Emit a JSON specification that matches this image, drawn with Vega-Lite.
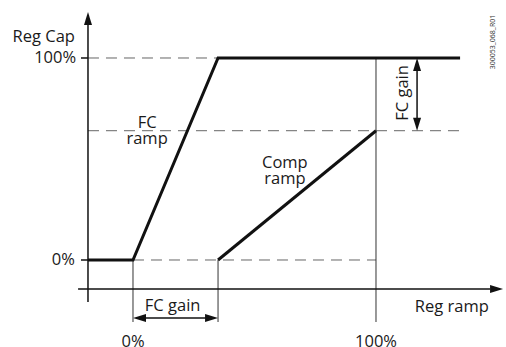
{
  "$schema": "https://vega.github.io/schema/vega-lite/v6.json",
  "width": 506,
  "height": 347,
  "autosize": {"type": "none"},
  "padding": 0,
  "background": "white",
  "config": {"view": {"stroke": null}},
  "datasets": {
    "segs": [
      {"role": "axis", "x": -18.52, "y": -20.8, "x2": -18.52, "y2": 117},
      {"role": "axis", "x": -22.6, "y": -14.36, "x2": 147, "y2": -14.36},
      {"role": "axis", "x": -21.4, "y": 100, "x2": -18.52, "y2": 100},
      {"role": "axis", "x": -21.4, "y": 0, "x2": -18.52, "y2": 0},
      {"role": "guide", "x": 0, "y": 0, "x2": 0, "y2": -30.7},
      {"role": "guide", "x": 35, "y": 0, "x2": 35, "y2": -30.7},
      {"role": "guide", "x": 100, "y": 100, "x2": 100, "y2": -30.7},
      {"role": "dash", "x": -18.52, "y": 100, "x2": 35, "y2": 100},
      {"role": "dash", "x": -18.52, "y": 64, "x2": 134.6, "y2": 64},
      {"role": "dash", "x": 0, "y": 0, "x2": 100, "y2": 0},
      {"role": "dim", "x": 3, "y": -28.7, "x2": 32, "y2": -28.7},
      {"role": "dim", "x": 116.9, "y": 67, "x2": 116.9, "y2": 97}
    ],
    "ramps": [
      {"series": "FC", "order": 1, "x": -18.52, "y": 0},
      {"series": "FC", "order": 2, "x": 0, "y": 0},
      {"series": "FC", "order": 3, "x": 35, "y": 100},
      {"series": "FC", "order": 4, "x": 134.6, "y": 100},
      {"series": "Comp", "order": 1, "x": 35, "y": 0},
      {"series": "Comp", "order": 2, "x": 100, "y": 64}
    ],
    "heads": [
      {"x": -18.52, "y": 122.8, "dir": 270},
      {"x": 152.3, "y": -14.36, "dir": 0},
      {"x": 0, "y": -28.7, "dir": 180},
      {"x": 35, "y": -28.7, "dir": 0},
      {"x": 116.9, "y": 100, "dir": 270},
      {"x": 116.9, "y": 64, "dir": 90}
    ],
    "labels": [
      {"text": ["Reg Cap"], "x": -23.9, "y": 108.1, "pos": "right"},
      {"text": ["FC", "ramp"], "x": 5.8, "y": 65.3, "pos": "center"},
      {"text": ["Comp", "ramp"], "x": 62.5, "y": 45.5, "pos": "center"},
      {"text": ["FC gain"], "x": 16.3, "y": -25.3, "pos": "center"},
      {"text": ["0%"], "x": 0, "y": -43, "pos": "center"},
      {"text": ["100%"], "x": 100, "y": -43, "pos": "center"},
      {"text": ["Reg ramp"], "x": 116, "y": -25.5, "pos": "left"}
    ],
    "mids": [
      {"text": "100%", "x": -23.4, "y": 100, "pos": "right"},
      {"text": "0%", "x": -23.9, "y": 0, "pos": "right"},
      {"text": "FC gain", "x": 111.2, "y": 82.7, "pos": "vertical"},
      {"text": "300053_068_R01", "x": 148.2, "y": 107.9, "pos": "code"}
    ]
  },
  "encoding": {
    "x": {"field": "x", "type": "quantitative", "scale": {"domain": [-54.73, 153.5], "nice": false, "zero": false}, "axis": null},
    "y": {"field": "y", "type": "quantitative", "scale": {"domain": [-43.07, 128.71], "nice": false, "zero": false}, "axis": null}
  },
  "layer": [
    {
      "data": {"name": "segs"},
      "transform": [{"filter": "datum.role === 'dash'"}],
      "mark": {"type": "rule", "stroke": "#666666", "strokeWidth": 1, "strokeDash": [11, 7]},
      "encoding": {"x2": {"field": "x2"}, "y2": {"field": "y2"}}
    },
    {
      "data": {"name": "segs"},
      "transform": [{"filter": "datum.role === 'guide'"}],
      "mark": {"type": "rule", "stroke": "#333333", "strokeWidth": 1},
      "encoding": {"x2": {"field": "x2"}, "y2": {"field": "y2"}}
    },
    {
      "data": {"name": "segs"},
      "transform": [{"filter": "datum.role === 'axis' || datum.role === 'dim'"}],
      "mark": {"type": "rule", "stroke": "#111111", "strokeWidth": 1.5},
      "encoding": {"x2": {"field": "x2"}, "y2": {"field": "y2"}}
    },
    {
      "data": {"name": "ramps"},
      "mark": {"type": "line", "stroke": "#111111", "strokeWidth": 3, "strokeJoin": "miter", "strokeCap": "butt"},
      "encoding": {"detail": {"field": "series"}, "order": {"field": "order", "type": "quantitative"}}
    },
    {
      "data": {"name": "heads"},
      "mark": {"type": "point", "shape": "M0,0L-13,-4L-13,4Z", "size": 4, "filled": true, "color": "#111111", "opacity": 1, "strokeWidth": 0},
      "encoding": {"angle": {"field": "dir", "type": "quantitative", "scale": null}}
    },
    {
      "data": {"name": "labels"},
      "transform": [{"filter": "datum.pos === 'right'"}],
      "mark": {"type": "text", "align": "right", "baseline": "alphabetic", "lineHeight": 16, "font": "Open Sans", "fontSize": 16.5, "color": "#1a1a1a"},
      "encoding": {"text": {"field": "text"}}
    },
    {
      "data": {"name": "labels"},
      "transform": [{"filter": "datum.pos === 'center'"}],
      "mark": {"type": "text", "align": "center", "baseline": "alphabetic", "lineHeight": 16, "font": "Open Sans", "fontSize": 16.5, "color": "#1a1a1a"},
      "encoding": {"text": {"field": "text"}}
    },
    {
      "data": {"name": "labels"},
      "transform": [{"filter": "datum.pos === 'left'"}],
      "mark": {"type": "text", "align": "left", "baseline": "alphabetic", "lineHeight": 16, "font": "Open Sans", "fontSize": 16.5, "color": "#1a1a1a"},
      "encoding": {"text": {"field": "text"}}
    },
    {
      "data": {"name": "mids"},
      "transform": [{"filter": "datum.pos === 'right'"}],
      "mark": {"type": "text", "align": "right", "baseline": "middle", "font": "Open Sans", "fontSize": 16.5, "color": "#1a1a1a"},
      "encoding": {"text": {"field": "text"}}
    },
    {
      "data": {"name": "mids"},
      "transform": [{"filter": "datum.pos === 'vertical'"}],
      "mark": {"type": "text", "align": "center", "baseline": "middle", "angle": 270, "font": "Open Sans", "fontSize": 16.5, "color": "#1a1a1a"},
      "encoding": {"text": {"field": "text"}}
    },
    {
      "data": {"name": "mids"},
      "transform": [{"filter": "datum.pos === 'code'"}],
      "mark": {"type": "text", "align": "center", "baseline": "middle", "angle": 270, "font": "Open Sans", "fontSize": 7, "color": "#333333"},
      "encoding": {"text": {"field": "text"}}
    }
  ]
}
